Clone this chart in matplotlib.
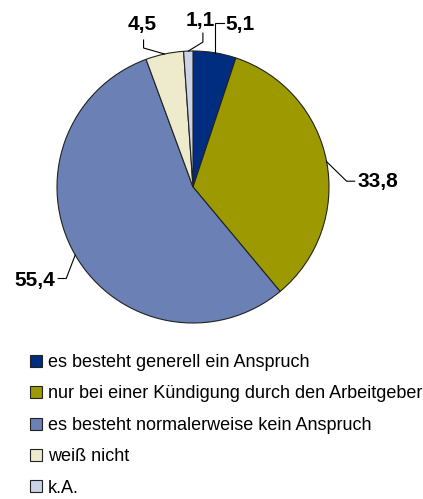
import numpy as np
import matplotlib.pyplot as plt

plt.rcParams['font.family'] = ['Liberation Sans', 'DejaVu Sans']

# data
categories = ['es besteht generell ein Anspruch',
              'nur bei einer Kündigung durch den Arbeitgeber',
              'es besteht normalerweise kein Anspruch',
              'weiß nicht',
              'k.A.']
values = [5.1, 33.8, 55.4, 4.5, 1.1]
value_labels = ['5,1', '33,8', '55,4', '4,5', '1,1']
colors = ['#002D80', '#9C9A00', '#6B80B4', '#EDEBCB', '#CBD3E6']

# leader layout (pixel offsets from wedge anchor: elbow, end, text)
R = 136.0
leaders = [
    ((0, -30), (9, -30), (11, -23), 'left'),
    ((20, 19.5), (28, 19.5), (31, 25.5), 'left'),
    ((-9, 23.5), (-17, 23.5), (-20, 30.5), 'right'),
    ((-21, -6), (-21, -14), (-22, -24), 'center'),
    ((14.6, -9), (14.6, -18), (12, -25), 'center'),
]

fig = plt.figure(figsize=(4.23, 4.99), dpi=100)
ax = fig.add_axes([0, 159 / 499, 1, 340 / 499])

wedges, _ = ax.pie(values, colors=colors, startangle=90, counterclock=False,
                   radius=1.0, center=(0, 0), frame=True,
                   wedgeprops=dict(edgecolor='#222222', linewidth=0.8))
ax.set_xlim(-193 / R, 230 / R)
ax.set_ylim(-153 / R, 187 / R)
ax.set_aspect('auto')
ax.axis('off')

for w, lab, (elb, end, txt, ha) in zip(wedges, value_labels, leaders):
    ang = np.deg2rad((w.theta1 + w.theta2) / 2)
    x0, y0 = np.cos(ang), np.sin(ang)
    xs = [x0, x0 + elb[0] / R, x0 + end[0] / R]
    ys = [y0, y0 - elb[1] / R, y0 - end[1] / R]
    ax.plot(xs, ys, color='black', lw=0.8, solid_joinstyle='miter')
    ax.text(x0 + txt[0] / R, y0 - txt[1] / R, lab, ha=ha, va='baseline',
            fontsize=15, fontweight='bold')

fig.legend(wedges, categories, loc='upper left',
           bbox_to_anchor=(30 / 423, (499 - 354) / 499),
           frameon=False, fontsize=13, handlelength=0.65, handleheight=0.65,
           handletextpad=0.35, labelspacing=0.8, borderpad=0, borderaxespad=0)

fig.savefig('out.png', dpi=100)
